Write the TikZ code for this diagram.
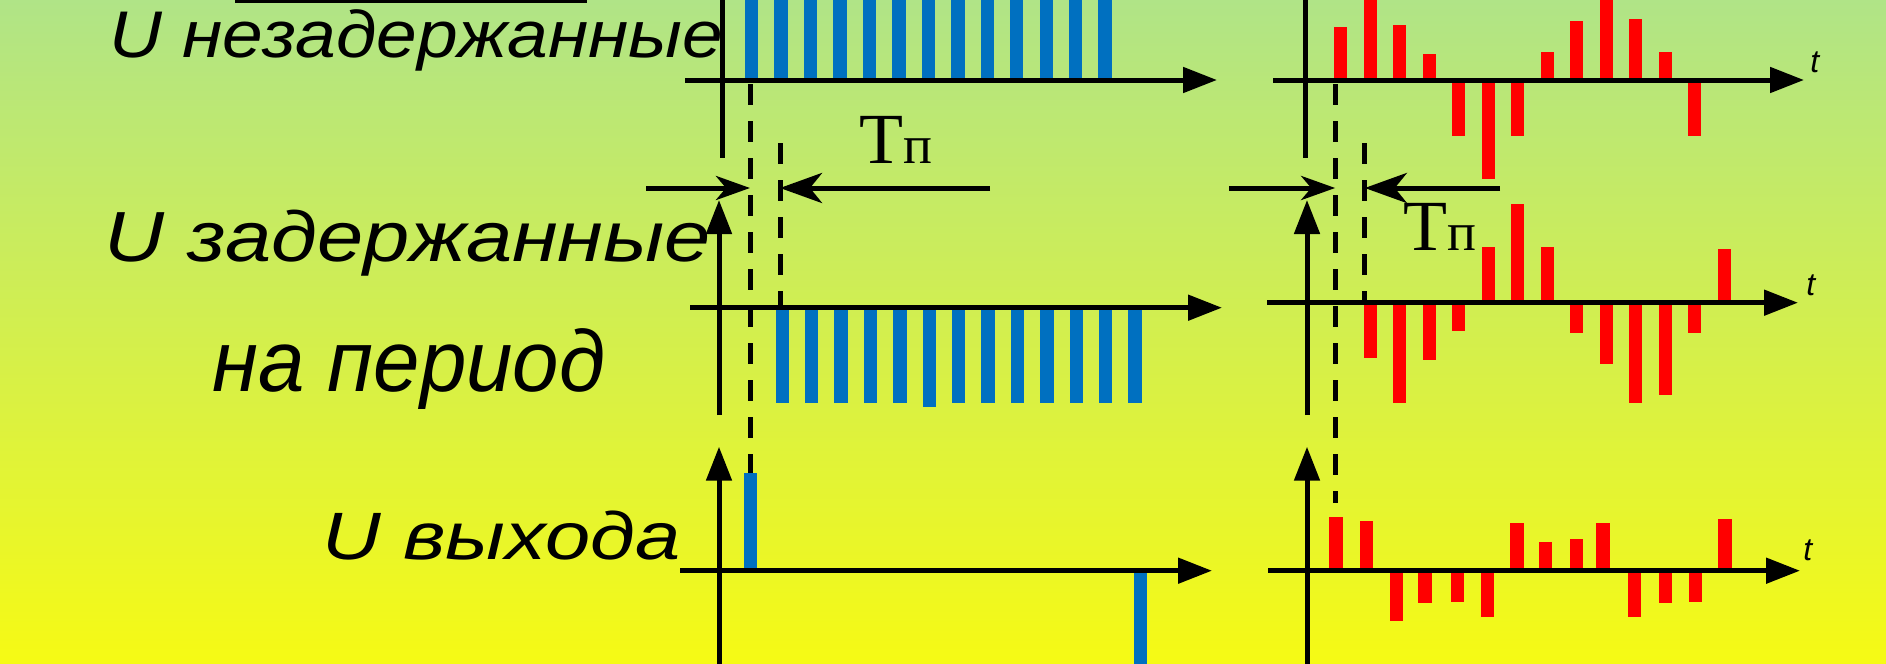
\documentclass[tikz,border=0pt]{standalone}
\usepackage{fontspec}
\setmainfont{Liberation Serif}
\newfontfamily\lsans{Liberation Sans}
\usetikzlibrary{arrows.meta}
\definecolor{bgtop}{RGB}{176,228,135}
\definecolor{bgbot}{RGB}{246,250,20}
\definecolor{barblue}{HTML}{0070C0}
\definecolor{barred}{HTML}{FF0000}

\begin{document}
\begin{tikzpicture}[
    x=0.5pt, y=-0.5pt,
    axis/.style={line width=2.5pt, -{Triangle[length=17pt, width=12.5pt]}},
    plainaxis/.style={line width=2.5pt},
    guide/.style={line width=2.5pt, dash pattern=on 10.5pt off 8pt},
    dimarrow/.style={line width=2.5pt, -{Stealth[length=17pt, width=12pt, inset=5pt]}},
    dimarrowlong/.style={line width=2.5pt, -{Stealth[length=21pt, width=15pt, inset=6pt]}},
    bluebar/.style={fill=barblue},
    redbar/.style={fill=barred},
    lbl/.style={anchor=base west, inner sep=0pt},
    tlbl/.style={anchor=base west, inner sep=0pt, font=\lsans\itshape\fontsize{16pt}{19pt}\selectfont}
]
% background
\shade[top color=bgtop, bottom color=bgbot] (0,0) rectangle (1886,664);
\useasboundingbox (0,0) rectangle (1886,664);
\draw[line width=1.35pt] (235,1.3) -- (587,1.3);

% left column: blue pulses
\foreach \k in {0,...,12}
    \fill[bluebar] ({745+29.45*\k},-2) rectangle ++(13.4,82);
\foreach \k/\b in {0/402.7,1/402.7,2/402.7,3/402.7,4/402.7,5/406.7,6/402.7,7/402.7,8/402.7,9/402.7,10/402.7,11/402.7,12/402.7}
    \fill[bluebar] ({775.6+29.4*\k},307.7) rectangle ++(13.4,{\b-307.7});
\fill[bluebar] (744.2,473.3) rectangle (756.8,570.7);
\fill[bluebar] (1133.8,570.7) rectangle (1146.8,668);

% right column: red pulses
\foreach \x/\y in {1334/27,1363.5/-2,1393/25,1422.5/54,1452/136,1481.5/179,1511/136,1540.5/52,1570/21,1599.5/-2,1629/19,1658.5/52,1688/136}
    \fill[redbar] (\x,80) rectangle ({\x+13.2},\y);
\foreach \x/\y in {1363.5/357.7,1393/403,1422.5/360,1452/331,1481.5/247.3,1511/204,1540.5/247,1570/332.7,1599.5/364,1629/403,1658.5/395,1688/332.7,1717.5/249.3}
    \fill[redbar] (\x,302.7) rectangle ({\x+13.2},\y);
\foreach \x/\y in {1329/516.7,1359.5/521,1389.6/621.3,1418.4/602.7,1450.5/601.7,1480.6/616.7,1509.9/523.3,1538.7/542.3,1569.6/539.3,1596.4/523.3,1627.7/616.7,1658.6/602.7,1688.7/601.7,1718/519}
    \fill[redbar] (\x,570.7) rectangle ({\x+13.6},\y);

% axes
\draw[axis] (685,80) -- (1217,80);
\draw[plainaxis] (722,-5) -- (722,158);
\draw[axis] (1273,80) -- (1804,80);
\draw[plainaxis] (1305,-5) -- (1305,158);
\draw[axis] (690,307.7) -- (1222,307.7);
\draw[axis] (719,415) -- (719,200);
\draw[axis] (1267,302.7) -- (1798,302.7);
\draw[axis] (1307,415) -- (1307,200);
\draw[axis] (680,570.7) -- (1212,570.7);
\draw[axis] (719,670) -- (719,446.7);
\draw[axis] (1268,570.7) -- (1800,570.7);
\draw[axis] (1307,670) -- (1307,446.7);

% delay guides
\draw[guide] (750,84) -- (750,473.3);
\draw[guide] (780,143) -- (780,307.7);
\draw[guide] (1335.2,84) -- (1335.2,502.7);
\draw[guide] (1364.8,143) -- (1364.8,302.7);

% period marks
\coordinate (gA) at (750,188);
\coordinate (gB) at (780,188);
\coordinate (gC) at (1335.2,188);
\coordinate (gD) at (1364.8,188);
\draw[dimarrow] (646,188) -- (gA);
\draw[dimarrowlong] (990,188) -- (gB);
\draw[dimarrow] (1229,188) -- (gC);
\draw[dimarrowlong] (1500,188) -- (gD);
\node[lbl] (tpA) at (859,163) {\fontsize{36pt}{40pt}\selectfont T\fontsize{27pt}{30pt}\selectfont п};
\node[lbl] (tpB) at (1403,250) {\fontsize{36pt}{40pt}\selectfont T\fontsize{27pt}{30pt}\selectfont п};

% signal names
\node[lbl, font=\lsans\itshape\fontsize{33pt}{38pt}\selectfont] (lblA) at (109,57.3) {\resizebox{307pt}{\height}{U незадержанные}};
\node[lbl, font=\lsans\itshape\fontsize{35.5pt}{42pt}\selectfont] (lblB) at (104.5,261) {\resizebox{303pt}{\height}{U задержанные}};
\node[lbl, font=\lsans\itshape\fontsize{43.4pt}{52pt}\selectfont] (lblC) at (212,391.7) {\resizebox{196.5pt}{\height}{на период}};
\node[lbl, font=\lsans\itshape\fontsize{33.5pt}{40pt}\selectfont] (lblD) at (322,559) {\resizebox{179pt}{\height}{U выхода}};
\node[tlbl] (tA) at (1810,72) {t};
\node[tlbl] (tB) at (1806,295) {t};
\node[tlbl] (tC) at (1803,560) {t};
\end{tikzpicture}
\end{document}
